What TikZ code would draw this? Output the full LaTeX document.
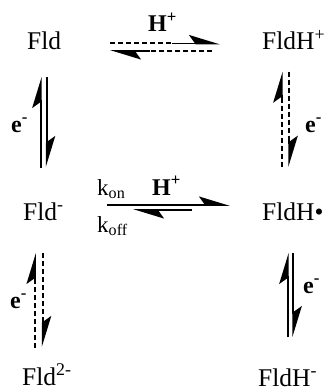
\documentclass[tikz,border=0pt]{standalone}
\usepackage{fontspec}
\setmainfont{Liberation Serif}
\usetikzlibrary{arrows.meta}
\tikzset{
  species/.style={inner sep=0pt, anchor=base west, font=\fontsize{25.5}{28}\selectfont},
  blabel/.style={inner sep=0pt, anchor=base west, font=\fontsize{24}{26}\selectfont\bfseries},
  klabel/.style={inner sep=0pt, anchor=base west, font=\fontsize{23}{26}\selectfont},
  dashln/.style={line width=2pt, dash pattern=on 5pt off 3pt},
  harp/.style={line width=1.8pt, -{Stealth[harpoon,length=28pt,width=17pt,inset=6pt]}},
}
\begin{document}
\begin{tikzpicture}[x=1pt,y=-1pt]
\path[use as bounding box] (0,0) rectangle (333,390);
% species
\node[species] (fld) at (27,50) {Fld};
\node[species] (fldhp) at (262,50) {FldH\textsuperscript{+}};
\node[species] (fldm) at (23,220) {Fld\textsuperscript{-}};
\node[species] (fldh) at (262,220) {FldH\textbullet};
\node[species] (fld2m) at (22,385) {Fld\textsuperscript{2-}};
\node[species] (fldhm) at (258,386) {FldH\textsuperscript{-}};
% labels
\node[blabel] (hp1) at (148,32) {H\textsuperscript{+}};
\node[blabel] (hp2) at (152,195) {H\textsuperscript{+}};
\node[klabel] (kon) at (97,195) {k\textsubscript{on}};
\node[klabel] (koff) at (97,232) {k\textsubscript{off}};
\node[blabel] (e1) at (11,132) {e\textsuperscript{-}};
\node[blabel] (e2) at (305,132) {e\textsuperscript{-}};
\node[blabel] (e3) at (10,308) {e\textsuperscript{-}};
\node[blabel] (e4) at (303,293) {e\textsuperscript{-}};
% top horizontal (dashed) Fld <-> FldH+
\coordinate (t1a) at (110,43.5); \coordinate (t1b) at (172,43.5); \coordinate (t1c) at (220,43.5);
\coordinate (t2a) at (212,51); \coordinate (t2b) at (150,51); \coordinate (t2c) at (110,51);
\draw[dashln] (t1a) -- (t1b);
\draw[harp] (t1b) -- (t1c);
\draw[dashln] (t2a) -- (t2b);
\draw[harp] (t2b) -- (t2c);
% middle horizontal (solid) Fld- <-> FldH.
\coordinate (m1a) at (106.7,205); \coordinate (m1b) at (230,205);
\coordinate (m2a) at (191.7,210); \coordinate (m2b) at (133,210);
\draw[harp] (m1a) -- (m1b);
\draw[harp] (m2a) -- (m2b);
% left top vertical (solid) Fld <-> Fld-
\coordinate (l1a) at (40.7,168); \coordinate (l1b) at (40.7,77);
\coordinate (l2a) at (46.7,77); \coordinate (l2b) at (46.7,167);
\draw[harp] (l1a) -- (l1b);
\draw[harp] (l2a) -- (l2b);
% right top vertical (dashed) FldH+ <-> FldH.
\coordinate (r1a) at (281.7,167); \coordinate (r1b) at (281.7,102); \coordinate (r1c) at (281.7,71.7);
\coordinate (r2a) at (289.3,71.7); \coordinate (r2b) at (289.3,138); \coordinate (r2c) at (289.3,166.7);
\draw[dashln] (r1a) -- (r1b);
\draw[harp] (r1b) -- (r1c);
\draw[dashln] (r2a) -- (r2b);
\draw[harp] (r2b) -- (r2c);
% bottom left vertical (dashed) Fld- <-> Fld2-
\coordinate (bl1a) at (35,348); \coordinate (bl1b) at (35,283); \coordinate (bl1c) at (35,253);
\coordinate (bl2a) at (42.7,253); \coordinate (bl2b) at (42.7,318); \coordinate (bl2c) at (42.7,347);
\draw[dashln] (bl1a) -- (bl1b);
\draw[harp] (bl1b) -- (bl1c);
\draw[dashln] (bl2a) -- (bl2b);
\draw[harp] (bl2b) -- (bl2c);
% bottom right vertical (solid) FldH. <-> FldH-
\coordinate (br1a) at (287.7,337); \coordinate (br1b) at (287.7,253);
\coordinate (br2a) at (293.3,253); \coordinate (br2b) at (293.3,337);
\draw[harp] (br1a) -- (br1b);
\draw[harp] (br2a) -- (br2b);
\end{tikzpicture}
\end{document}
